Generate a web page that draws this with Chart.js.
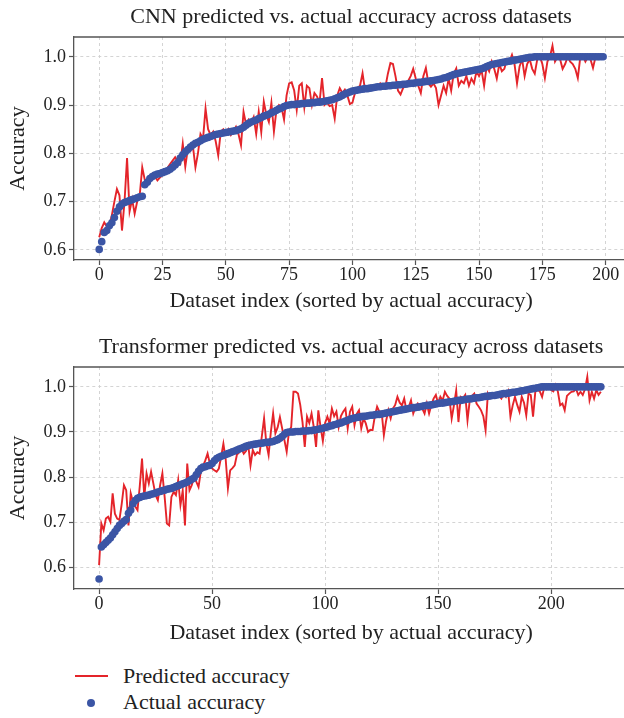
<!DOCTYPE html>
<html><head><meta charset="utf-8">
<script src="https://cdn.jsdelivr.net/npm/chart.js@4.4.1/dist/chart.umd.min.js"></script>
<style>
html,body{margin:0;padding:0;background:#fff;overflow:hidden;width:624px;height:718px;position:relative;}
#c1{position:absolute;left:0;top:0;}
#c2{position:absolute;left:0;top:322px;}
.leg{position:absolute;left:123px;font-family:"Liberation Serif",serif;font-size:22px;color:#222;line-height:1;white-space:nowrap;}
.lline{position:absolute;left:75px;width:33px;height:2px;background:#e4242a;}
.ldot{position:absolute;width:8px;height:8px;border-radius:50%;background:#3b55a5;}
</style></head>
<body>
<canvas id="c1" width="632" height="314"></canvas>
<canvas id="c2" width="632" height="324"></canvas>
<div class="lline" style="top:675px"></div>
<div class="leg" style="top:665px">Predicted accuracy</div>
<div class="ldot" style="left:87px;top:699px"></div>
<div class="leg" style="top:691px">Actual accuracy</div>
<script>
const yTicks = [0.6, 0.7, 0.8, 0.9, 1.0];
const cnnXTicks = [0, 25, 50, 75, 100, 125, 150, 175, 200];
const trXTicks = [0, 50, 100, 150, 200];

const cnnActual = [
0.601,0.617,0.636,0.640,0.650,0.656,0.667,0.680,0.689,0.695,
0.698,0.700,0.702,0.704,0.706,0.708,0.710,0.711,0.735,0.740,
0.748,0.752,0.755,0.757,0.758,0.760,0.762,0.764,0.767,0.771,
0.776,0.781,0.790,0.797,0.803,0.808,0.813,0.817,0.821,0.823,
0.826,0.829,0.831,0.833,0.835,0.837,0.839,0.840,0.841,0.842,
0.843,0.844,0.845,0.846,0.847,0.849,0.851,0.854,0.858,0.862,
0.865,0.867,0.869,0.872,0.874,0.877,0.879,0.881,0.884,0.886,
0.889,0.892,0.894,0.897,0.899,0.900,
0.901,0.901,0.902,0.902,0.903,0.903,0.904,0.904,0.905,0.905,0.906,0.906,0.907,0.908,
0.909,0.910,0.911,0.913,0.915,0.917,0.920,0.923,0.925,0.927,0.929,
0.930,0.931,0.932,0.933,0.934,0.934,0.935,0.936,0.937,0.938,
0.938,0.939,0.939,0.940,0.940,0.941,0.941,0.942,0.942,0.943,0.943,0.944,0.945,0.945,0.946,0.947,0.947,0.948,0.949,0.949,0.950,0.951,
0.952,0.953,0.954,0.956,0.957,0.959,0.961,0.963,0.965,
0.966,0.967,0.968,0.969,0.970,0.971,0.972,0.973,0.974,0.975,0.977,
0.980,0.982,0.984,0.985,0.986,0.987,0.988,0.989,0.990,0.991,0.992,0.993,
0.994,0.995,0.996,0.997,0.998,0.999,0.999,1.000,
1.000,1.000,1.000,1.000,1.000,1.000,1.000,1.000,1.000,1.000,1.000,1.000,1.000,1.000,
1.000,1.000,1.000,1.000,1.000,1.000,1.000,1.000,1.000,1.000,1.000,1.000,1.000
];
const cnnPredicted = [
0.626,0.645,0.657,0.648,0.650,0.672,0.700,0.726,0.713,0.640,
0.700,0.790,0.680,0.705,0.675,0.700,0.713,0.771,0.745,0.738,
0.748,0.758,0.752,0.744,0.750,0.755,0.762,0.770,0.778,0.785,
0.792,0.783,0.778,0.820,0.772,0.810,0.805,0.815,0.771,0.800,
0.840,0.830,0.893,0.850,0.838,0.845,0.825,0.796,0.845,0.850,
0.840,0.850,0.838,0.846,0.855,0.840,0.817,0.886,0.860,0.870,
0.862,0.875,0.840,0.886,0.844,0.907,0.880,0.865,0.905,0.845,
0.890,0.900,0.895,0.870,0.920,0.945,0.947,0.930,0.890,0.940,
0.945,0.895,0.940,0.935,0.900,0.925,0.918,0.905,0.956,0.900,
0.905,0.898,0.900,0.872,0.920,0.935,0.925,0.932,0.920,0.902,
0.905,0.925,0.935,0.940,0.966,0.930,0.935,0.940,0.935,0.932,
0.935,0.945,0.940,0.937,0.965,0.987,0.985,0.960,0.930,0.922,
0.935,0.942,0.950,0.960,0.975,0.955,0.940,0.925,0.960,0.977,
0.945,0.938,0.945,0.935,0.900,0.920,0.940,0.925,0.955,0.930,
0.965,0.976,0.940,0.950,0.945,0.960,0.940,0.955,0.945,0.970,
0.960,0.972,0.940,0.980,0.970,0.990,0.975,0.955,0.985,0.970,
0.975,0.995,0.990,1.004,0.985,0.945,0.980,0.995,0.960,0.985,
0.995,0.975,0.965,0.995,1.000,0.985,0.956,0.990,1.000,1.023,
0.990,1.000,0.995,0.975,0.985,1.000,0.990,0.985,0.975,0.956,
1.000,1.002,0.990,1.000,0.995,0.977,1.000,0.995,1.000,1.000
];
const trActual = [
0.574,0.645,0.650,0.655,0.660,0.665,0.672,0.679,0.686,0.693,
0.697,0.702,0.706,0.720,0.727,0.741,0.748,0.753,0.755,0.757,
0.758,0.759,0.760,0.762,0.763,0.765,0.767,0.768,0.770,0.771,
0.773,0.774,0.775,0.777,0.779,0.781,0.783,0.785,0.787,0.789,
0.792,0.795,0.798,0.805,0.813,0.819,0.822,0.823,0.825,0.826,
0.830,0.836,0.841,0.844,0.846,0.848,0.850,0.852,0.854,0.856,
0.858,0.860,0.862,0.864,0.866,0.868,0.870,0.871,0.872,0.873,
0.874,0.875,0.875,0.876,0.877,0.877,0.878,0.879,0.881,0.883,
0.886,0.890,0.895,0.899,0.900,
0.900,0.900,0.901,0.901,0.901,0.902,0.902,0.902,0.903,0.903,0.904,0.905,0.906,0.907,0.908,
0.910,0.911,0.913,0.914,0.916,0.917,0.919,0.920,0.922,0.924,0.926,0.928,
0.930,0.931,0.932,0.933,0.934,0.935,0.935,0.936,0.937,0.937,0.938,0.939,0.939,0.940,0.941,0.942,0.943,0.944,0.945,
0.946,0.947,0.948,0.949,0.950,0.951,0.952,0.953,0.954,0.954,0.955,0.956,0.957,0.958,0.959,0.959,0.960,0.961,0.962,0.963,
0.964,0.964,0.965,0.966,0.967,0.967,0.968,0.969,0.970,0.970,0.971,0.972,0.973,0.973,0.974,0.975,0.976,0.976,0.977,0.978,
0.979,0.979,0.980,0.981,0.981,0.982,0.983,0.984,0.985,0.985,0.986,0.987,0.988,0.988,0.989,0.990,0.991,0.992,0.993,0.994,
0.995,0.996,0.997,0.998,0.999,1.000,1.000,1.000,1.000,1.000,
1.000,1.000,1.000,1.000,1.000,1.000,1.000,1.000,1.000,1.000,1.000,
1.000,1.000,1.000,1.000,1.000,1.000,1.000,1.000,1.000,1.000,1.000
];
const trPredicted = [
0.605,0.697,0.682,0.708,0.712,0.701,0.764,0.719,0.708,0.705,
0.740,0.782,0.771,0.693,0.764,0.745,0.735,0.727,0.780,0.841,
0.756,0.808,0.786,0.812,0.786,0.760,0.749,0.782,0.808,0.756,
0.697,0.693,0.756,0.767,0.760,0.793,0.738,0.770,0.693,0.830,
0.771,0.782,0.800,0.790,0.778,0.812,0.825,0.837,0.852,0.830,
0.819,0.815,0.812,0.819,0.845,0.874,0.840,0.775,0.815,0.820,
0.826,0.850,0.855,0.863,0.852,0.858,0.871,0.826,0.860,0.849,
0.855,0.852,0.890,0.930,0.874,0.849,0.900,0.941,0.897,0.910,
0.933,0.908,0.882,0.856,0.900,0.911,0.989,0.989,0.985,0.960,
0.922,0.867,0.934,0.920,0.941,0.911,0.867,0.948,0.911,0.880,
0.920,0.934,0.919,0.952,0.935,0.945,0.911,0.935,0.945,0.952,
0.908,0.945,0.956,0.915,0.940,0.948,0.908,0.930,0.919,0.900,
0.905,0.904,0.935,0.956,0.945,0.945,0.893,0.925,0.948,0.930,
0.952,0.960,0.978,0.965,0.959,0.974,0.948,0.955,0.970,0.941,
0.955,0.963,0.955,0.952,0.941,0.963,0.941,0.960,0.974,0.982,
0.963,0.978,0.970,0.989,0.980,0.974,0.930,0.959,0.992,0.922,
0.978,0.975,0.982,0.926,0.970,0.980,0.985,0.963,0.956,0.948,
0.935,0.904,0.985,0.975,0.982,0.978,0.985,0.980,0.974,0.985,
0.978,0.990,0.934,0.959,0.978,0.960,0.945,0.978,0.965,0.937,
0.985,0.982,0.934,0.989,0.993,0.990,0.978,1.000,0.995,1.004,
0.993,0.990,1.004,0.989,0.959,0.963,0.948,0.980,0.985,0.989,
0.990,0.996,0.982,0.989,0.982,0.995,1.022,0.970,0.989,0.974,
0.993,0.982,0.989
];

const RED = '#e4242a', BLUE = '#3b55a5';
const FONT = '"Liberation Serif", serif';
const TXT = '#222';
const FRAME = '#555';

const framePlugin = {
  id: 'frameTop',
  afterDraw(chart) {
    const {ctx, chartArea: a} = chart;
    ctx.save();
    ctx.strokeStyle = FRAME; ctx.lineWidth = 1.3;
    ctx.beginPath(); ctx.moveTo(a.left, a.top); ctx.lineTo(a.right, a.top); ctx.stroke();
    ctx.restore();
  }
};

function makeChart(id, title, actual, predicted, xTicks, xMin, xMax, yMin, yMax, titlePadTop, titlePadBottom, xHeight) {
  new Chart(document.getElementById(id), {
    type: 'scatter',
    data: {
      datasets: [
        { label: 'Actual accuracy', data: actual.map((y, i) => ({x: i, y})),
          showLine: false, pointRadius: 3.8, pointHoverRadius: 3.8,
          pointBackgroundColor: BLUE, pointBorderWidth: 0, backgroundColor: BLUE, borderColor: BLUE },
        { label: 'Predicted accuracy', data: predicted.map((y, i) => ({x: i, y})),
          showLine: true, pointRadius: 0, borderColor: RED, borderWidth: 1.9,
          backgroundColor: RED, tension: 0 }
      ]
    },
    options: {
      responsive: false, animation: false, devicePixelRatio: 1,
      layout: { padding: { left: 0, right: 2, top: 0, bottom: 0 } },
      plugins: {
        legend: { display: false }, tooltip: { enabled: false },
        title: { display: true, text: title, color: TXT, fullSize: false,
          font: { family: FONT, size: 22, weight: 'normal', lineHeight: 1.2 },
          padding: { top: titlePadTop, bottom: titlePadBottom } }
      },
      scales: {
        x: {
          type: 'linear', min: xMin, max: xMax,
          afterBuildTicks: s => { s.ticks = xTicks.map(v => ({value: v})); },
          afterFit: s => { s.height = xHeight; },
          grid: { color: '#d0d0d0', lineWidth: 0.9, drawTicks: true, tickLength: 5, tickColor: FRAME, tickWidth: 1.2 },
          border: { display: true, color: FRAME, width: 1.3, dash: [3, 3] },
          ticks: { color: TXT, padding: 1, font: { family: FONT, size: 18, lineHeight: 1 }, maxRotation: 0 },
          title: { display: true, text: 'Dataset index (sorted by actual accuracy)', color: TXT,
            font: { family: FONT, size: 22, lineHeight: 1.2 }, padding: 0 }
        },
        y: {
          min: yMin, max: yMax,
          afterBuildTicks: s => { s.ticks = yTicks.map(v => ({value: v})); },
          afterFit: s => { s.width = 74; },
          grid: { color: '#d0d0d0', lineWidth: 0.9, drawTicks: true, tickLength: 5, tickColor: FRAME, tickWidth: 1.2 },
          border: { display: true, color: FRAME, width: 1.3, dash: [3, 3] },
          ticks: { color: TXT, padding: 3, font: { family: FONT, size: 18, lineHeight: 1 },
            callback: v => Number(v).toFixed(1) },
          title: { display: true, text: 'Accuracy', color: TXT,
            font: { family: FONT, size: 22, lineHeight: 1.2 }, padding: { top: 5, bottom: 0 } }
        }
      }
    },
    plugins: [framePlugin]
  });
}

makeChart('c1', 'CNN predicted vs. actual accuracy across datasets',
  cnnActual, cnnPredicted, cnnXTicks, -9.95, 208.9, 0.579, 1.041, 4, 6.6, 54);
makeChart('c2', 'Transformer predicted vs. actual accuracy across datasets',
  trActual, trPredicted, trXTicks, -11.1, 234.1, 0.552, 1.044, 12, 6.6, 57);
</script>
</body></html>
